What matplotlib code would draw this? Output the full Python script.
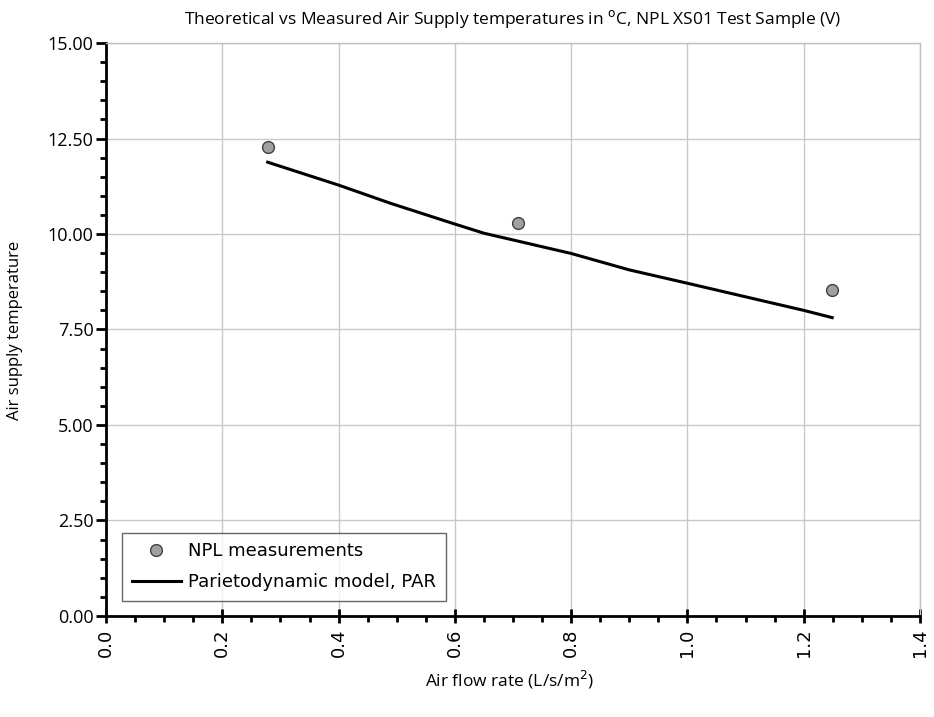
import matplotlib
matplotlib.use("Agg")
import matplotlib.pyplot as plt
from matplotlib.ticker import MultipleLocator, FormatStrFormatter

meas_x = [0.278, 0.708, 1.248]
meas_y = [12.27, 10.28, 8.53]

model_x = [0.278, 0.40, 0.49, 0.60, 0.65, 0.80, 0.90, 1.00, 1.20, 1.249]
model_y = [11.88, 11.28, 10.80, 10.26, 10.02, 9.49, 9.06, 8.71, 8.00, 7.81]

title = "Theoretical vs Measured Air Supply temperatures in $^{\\mathrm{o}}$C, NPL XS01 Test Sample (V)"
xlabel = "Air flow rate (L/s/m$^{2}$)"
ylabel = "Air supply temperature"
legend_labels = ["NPL measurements", "Parietodynamic model, PAR"]

narrow = ["Open Sans", "DejaVu Sans"]

fig = plt.figure(figsize=(9.34, 7.17), dpi=100)
ax = fig.add_axes([0.1135, 0.141, 0.8715, 0.799])

ax.plot(model_x, model_y, color="black", lw=2.2, label=legend_labels[1], zorder=3)
ax.plot(meas_x, meas_y, linestyle="none", marker="o", markersize=8.5,
        markerfacecolor="#a0a0a0", markeredgecolor="#404040", markeredgewidth=1.0,
        label=legend_labels[0], zorder=4)

ax.set_xlim(0, 1.4)
ax.set_ylim(0, 15)
ax.xaxis.set_major_locator(MultipleLocator(0.2))
ax.xaxis.set_minor_locator(MultipleLocator(0.05))
ax.yaxis.set_major_locator(MultipleLocator(2.5))
ax.yaxis.set_minor_locator(MultipleLocator(0.5))
ax.xaxis.set_major_formatter(FormatStrFormatter("%.1f"))
ax.yaxis.set_major_formatter(FormatStrFormatter("%.2f"))

ax.grid(True, which="major", color="#c8c8c8", lw=1.0, zorder=0)
ax.set_axisbelow(True)

for s in ["top", "right"]:
    ax.spines[s].set_color("#c0c0c0")
    ax.spines[s].set_linewidth(1.0)
for s in ["left", "bottom"]:
    ax.spines[s].set_color("black")
    ax.spines[s].set_linewidth(2.0)

ax.tick_params(axis="y", which="major", direction="out", length=7, width=2, labelsize=13, pad=2)
ax.tick_params(axis="y", which="minor", direction="out", length=4, width=2)
ax.tick_params(axis="x", which="major", direction="inout", length=10, width=2, labelsize=13,
               labelrotation=90, pad=4)
ax.tick_params(axis="x", which="minor", direction="out", length=4, width=2)

for lbl in ax.get_yticklabels():
    lbl.set_family(narrow)
for lbl in ax.get_xticklabels():
    lbl.set_family(["DejaVu Sans"])

ax.set_title(title, fontsize=12.5, family=narrow, pad=14)
fig.text(510 / 934, 1 - 680 / 717, xlabel, fontsize=12.5, family=narrow,
         ha="center", va="center")
fig.text(15 / 934, 1 - 330 / 717, ylabel, fontsize=12, family=narrow,
         ha="center", va="center", rotation=90)

handles, labels = ax.get_legend_handles_labels()
order = [1, 0]
leg = ax.legend([handles[i] for i in order], [labels[i] for i in order],
                loc="lower left", bbox_to_anchor=(0.0197, 0.026),
                frameon=True, fancybox=False, edgecolor="#404040", borderpad=0.55,
                labelspacing=0.7, handlelength=2.7, handletextpad=0.4, borderaxespad=0,
                prop={"family": "DejaVu Sans", "size": 13})
leg.get_frame().set_linewidth(1.0)

fig.savefig("out.png", dpi=100)
